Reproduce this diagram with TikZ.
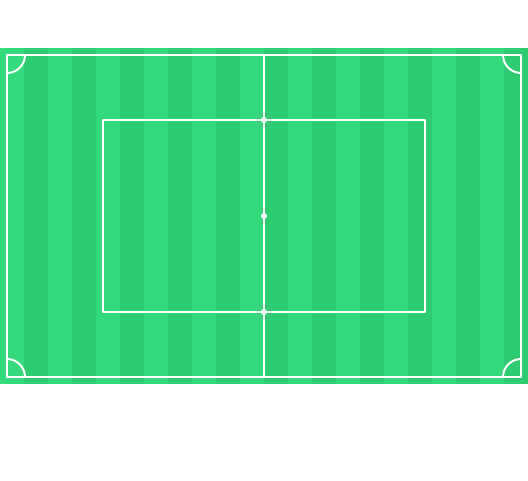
\documentclass[tikz,border=0pt]{standalone}
\definecolor{fieldlight}{HTML}{34D97A}
\definecolor{fielddark}{HTML}{2ECC71}
\tikzset{pitchline/.style={draw=white,line width=2pt},
  spot/.style={circle,fill=white,inner sep=0pt,minimum size=6pt}}
\begin{document}
\begin{tikzpicture}[x=1pt,y=-1pt]
\useasboundingbox (0,0) rectangle (528,480);
\fill[white] (0,0) rectangle (528,480);
\fill[fielddark] (0,48) rectangle (528,384);
\foreach \i in {0,2,...,20} {
  \fill[fieldlight] ({\i*24},48) rectangle ({\i*24+24},384);
}
\draw[pitchline] (7,55) rectangle (521,377);
\draw[pitchline] (264,55) -- (264,377);
\draw[pitchline] (103,120) rectangle (425,312);
\draw[pitchline] (25,55) arc[start angle=0,end angle=90,radius=18];
\draw[pitchline] (503,55) arc[start angle=180,end angle=90,radius=18];
\draw[pitchline] (25,377) arc[start angle=0,end angle=-90,radius=18];
\draw[pitchline] (503,377) arc[start angle=180,end angle=270,radius=18];
\node[spot] (top) at (264,120) {};
\node[spot] (mid) at (264,216) {};
\node[spot] (bot) at (264,312) {};
\end{tikzpicture}
\end{document}
